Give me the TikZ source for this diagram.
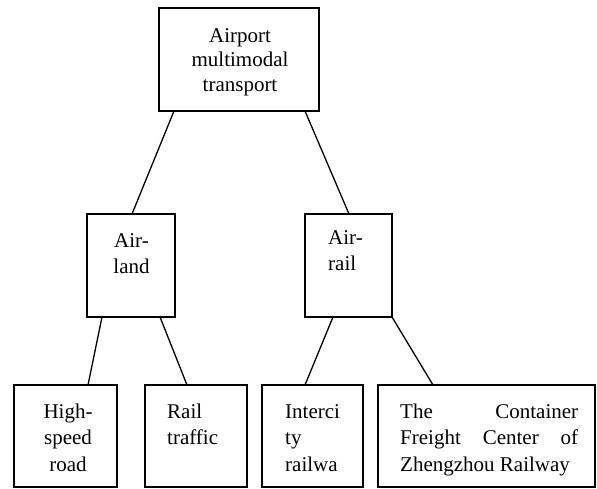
\documentclass[tikz,border=0pt]{standalone}
\usepackage{fontspec}
\setmainfont{Liberation Serif}
\tikzset{
  box/.style={draw, line width=1.3pt, inner sep=0pt, outer sep=0pt, anchor=north west},
  lbl/.style={inner sep=0pt, font=\fontsize{21}{26.5}\selectfont, text width=#1},
  link/.style={line width=1.3pt}
}

\begin{document}
\begin{tikzpicture}[x=1pt,y=-1pt]
\useasboundingbox (0,0) rectangle (597,488);
\node[box, minimum width=160pt, minimum height=103pt] (airport) at (159,8) {};
\node[box, minimum width=88pt, minimum height=103pt] (airland) at (87,214) {};
\node[box, minimum width=87pt, minimum height=103pt] (airrail) at (305,214) {};
\node[box, minimum width=103pt, minimum height=102pt] (highspeed) at (14,385) {};
\node[box, minimum width=102pt, minimum height=102pt] (railtraffic) at (145,385) {};
\node[box, minimum width=101pt, minimum height=102pt] (intercity) at (262,385) {};
\node[box, minimum width=217pt, minimum height=102pt] (container) at (378,385) {};

\node[lbl=140pt, align=center, anchor=base, font=\fontsize{21}{24.5}\selectfont] (airporttxt) at (240,42) {Airport\\multimodal\\transport};
\node[lbl=80pt, align=center, anchor=base] (airlandtxt) at (131.5,247) {Air-\\land};
\node[lbl=60pt, align=left, anchor=base west] (airrailtxt) at (328,244) {Air-\\rail};
\node[lbl=90pt, align=center, anchor=base] (highspeedtxt) at (68,418) {High-\\speed\\road};
\node[lbl=75pt, align=left, anchor=base west] (railtraffictxt) at (167,418) {Rail\\traffic};
\node[lbl=75pt, align=left, anchor=base west] (intercitytxt) at (285,418) {Interci\\ty\\railwa};
\node[lbl=178pt, align=justify, anchor=base west] (containertxt) at (400,418) {The Container\linebreak Freight Center of\linebreak Zhengzhou Railway};

\draw[link] ([xshift=15pt]airport.south west) -- ([xshift=45pt]airland.north west);
\draw[link] ([xshift=146pt]airport.south west) -- ([xshift=44pt]airrail.north west);
\draw[link] ([xshift=15pt]airland.south west) -- ([xshift=74pt]highspeed.north west);
\draw[link] ([xshift=73pt]airland.south west) -- ([xshift=42pt]railtraffic.north west);
\draw[link] ([xshift=28pt]airrail.south west) -- ([xshift=43pt]intercity.north west);
\draw[link] (airrail.south east) -- ([xshift=55pt]container.north west);
\end{tikzpicture}
\end{document}
